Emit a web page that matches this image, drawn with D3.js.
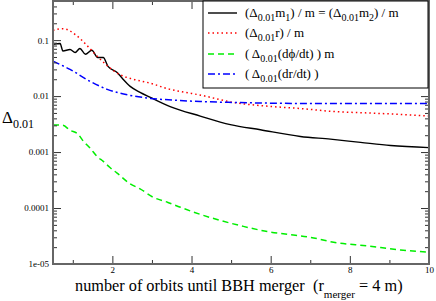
<!DOCTYPE html>
<html><head><meta charset="utf-8">
<script src="https://cdn.jsdelivr.net/npm/d3@7"></script>
<style>body{margin:0;background:#fff}svg{display:block}text{font-family:"Liberation Serif","Times New Roman",serif}</style>
</head><body><svg id="c" width="436" height="301"></svg>
<script>
const mOrbits = [0.5,0.68,0.75,0.93,1.06,1.18,1.32,1.48,1.63,1.77,1.89,2.12,2.27,2.45,2.70,2.96,3.46,4.22,4.98,5.74,6.75,7.51,8.27,9.03,10];
const mDelta  = [0.084,0.087,0.064,0.068,0.060,0.071,0.056,0.066,0.049,0.049,0.034,0.0265,0.020,0.0149,0.0117,0.0095,0.0065,0.0044,0.0031,0.0025,0.0019,0.0017,0.00149,0.00131,0.0012];
const rOrbits = [0.5,0.75,1.1,1.36,1.61,1.87,2.2,2.53,2.96,3.4,3.8,4.2,5.06,5.92,6.75,7.6,8.45,9.3,10];
const rDelta  = [0.15,0.16,0.12,0.08,0.052,0.035,0.024,0.020,0.017,0.0135,0.0118,0.0105,0.0077,0.0066,0.0060,0.0053,0.0050,0.0047,0.0044];
const phiOrbits = [0.5,0.75,0.93,1.13,1.26,1.44,1.61,1.77,1.94,2.12,2.45,2.70,3.03,3.39,3.72,4.22,4.73,5.31,5.92,6.42,7.0,7.59,8.45,9.28,10];
const phiDelta  = [0.00306,0.0030,0.00245,0.0021,0.00158,0.00117,0.00084,0.00068,0.00053,0.00042,0.00027,0.00022,0.000156,0.000127,0.000103,7.7e-5,6.0e-5,4.7e-5,3.8e-5,3.4e-5,3.0e-5,2.45e-5,2.1e-5,1.78e-5,1.63e-5];
const drOrbits = [0.5,0.93,1.44,1.87,2.45,2.96,3.64,4.22,5.06,6.75,8.5,10];
const drDelta  = [0.042,0.030,0.0183,0.0132,0.0103,0.0091,0.0084,0.0080,0.0077,0.0074,0.0074,0.0074];
const xMajor = [2,4,6,8,10];
const xMinor = [1,3,5,7,9];
const yMajor = [1e-5,1e-4,1e-3,1e-2,1e-1];
const yMajorLabels = ["1e-05","0.0001","0.001","0.01","0.1"];

const svg = d3.select("#c");
const L=53,R=429,T=1,B=264;
const x = d3.scaleLinear().domain([0.5,10]).range([L,R]);
const y = d3.scaleLog().domain([1e-5,0.5]).range([B,T]);
const yMinor = [];
for (let e=-5;e<0;e++) for (let k=2;k<=9;k++){const v=k*Math.pow(10,e); if(v<=0.5) yMinor.push(v);}

const series = [
  {xs:mOrbits, ys:mDelta, color:"#000", dash:null, w:1.4},
  {xs:rOrbits, ys:rDelta, color:"#ff0000", dash:"1.5,3", w:1.5},
  {xs:phiOrbits, ys:phiDelta, color:"#00ee00", dash:"6,4", w:1.5},
  {xs:drOrbits, ys:drDelta, color:"#0000ff", dash:"7,3,2,3", w:1.5}
];
svg.append("clipPath").attr("id","cp").append("rect").attr("x",L).attr("y",T).attr("width",R-L).attr("height",B-T);
const line = d3.line().x(d=>x(d[0])).y(d=>y(d[1])).curve(d3.curveMonotoneX);
const g = svg.append("g").attr("clip-path","url(#cp)");
series.forEach(s=>{
  g.append("path").datum(s.xs.map((v,i)=>[v,s.ys[i]])).attr("d",line)
   .attr("fill","none").attr("stroke",s.color).attr("stroke-width",s.w)
   .attr("stroke-dasharray",s.dash);
});

function ax(gen, tx, ty){
  const a = svg.append("g").attr("transform",`translate(${tx},${ty})`).call(gen);
  a.select(".domain").remove();
  a.selectAll(".tick line").attr("stroke","#333").attr("stroke-width",1);
  a.selectAll("text").attr("font-size",9).attr("fill","#000");
  return a;
}
// bottom
ax(d3.axisBottom(x).tickValues(xMajor).tickSize(-8).tickPadding(3).tickFormat(d3.format("d")),0,B);
ax(d3.axisBottom(x).tickValues(xMinor).tickSize(-4).tickFormat(""),0,B);
// top
ax(d3.axisTop(x).tickValues(xMajor).tickSize(-8).tickFormat(""),0,T);
ax(d3.axisTop(x).tickValues(xMinor).tickSize(-4).tickFormat(""),0,T);
// left
ax(d3.axisLeft(y).tickValues(yMajor).tickSize(-8).tickPadding(4).tickFormat((d,i)=>yMajorLabels[i]),L,0);
ax(d3.axisLeft(y).tickValues(yMinor).tickSize(-4).tickFormat(""),L,0);
// right
ax(d3.axisRight(y).tickValues(yMajor).tickSize(-8).tickFormat(""),R,0);
ax(d3.axisRight(y).tickValues(yMinor).tickSize(-4).tickFormat(""),R,0);

svg.append("rect").attr("x",L).attr("y",T).attr("width",R-L).attr("height",B-T)
  .attr("fill","none").attr("stroke","#666").attr("stroke-width",2);

// legend
const lg = svg.append("g");
lg.append("rect").attr("x",203).attr("y",1).attr("width",225).attr("height",87)
  .attr("fill","#fff").attr("stroke","#000").attr("stroke-width",1);
const legendParts = [
  [["(Δ",0],["0.01",1],["m",0],["1",1],[") / m = (Δ",0],["0.01",1],["m",0],["2",1],[") / m",0]],
  [["(Δ",0],["0.01",1],["r) / m",0]],
  [["( Δ",0],["0.01",1],["(dϕ/dt) ) m",0]],
  [["( Δ",0],["0.01",1],["(dr/dt) )",0]]
];
const legY=[13,33,54,74];
series.forEach((s,i)=>{
  lg.append("line").attr("x1",208).attr("x2",237).attr("y1",legY[i]).attr("y2",legY[i])
    .attr("stroke",s.color).attr("stroke-width",s.w).attr("stroke-dasharray",s.dash);
  const t = lg.append("text").attr("x",245).attr("y",legY[i]+4).attr("font-size",13);
  let prevSub=false;
  legendParts[i].forEach(([str,sub])=>{
    const ts=t.append("tspan").text(str);
    if(sub){ts.attr("font-size",10).attr("dy",prevSub?0:4);}
    else {ts.attr("dy",prevSub?-4:0);}
    prevSub=!!sub;
  });
});

// y label
const yl = svg.append("text").attr("x",2).attr("y",123).attr("font-size",17);
yl.append("tspan").text("Δ");
yl.append("tspan").text("0.01").attr("font-size",12).attr("dy",5);

// x label: main part, then "(r_merger = 4 m)"
const xl1 = svg.append("text").attr("x",75).attr("y",291).attr("font-size",17).text("number of orbits until BBH merger");
const w1 = xl1.node().getComputedTextLength();
const fs = 17*230/w1;
xl1.attr("font-size",fs);
const xl2 = svg.append("text").attr("x",313).attr("y",291).attr("font-size",fs);
xl2.append("tspan").text("(r");
xl2.append("tspan").text("merger").attr("font-size",fs*0.68).attr("dy",7);
xl2.append("tspan").text(" = 4 m)").attr("dy",-7);
</script></body></html>
